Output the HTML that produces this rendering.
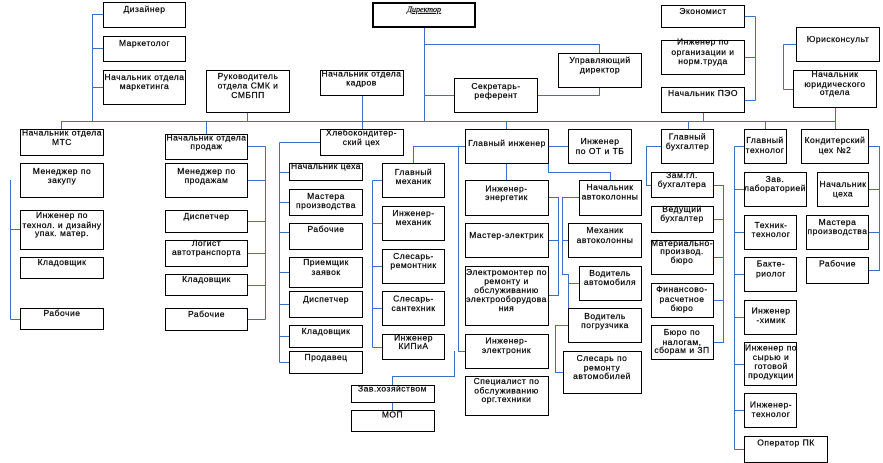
<!DOCTYPE html>
<html><head><meta charset="utf-8"><style>
html,body{margin:0;padding:0;background:#fff}
svg{display:block}
rect{fill:#fff;stroke:#000;stroke-width:1}
path{fill:none;stroke:#3f6fc4;stroke-width:1}
text{font-family:"Liberation Sans",sans-serif;font-size:8.5px;letter-spacing:.5px;text-anchor:middle;fill:#000;stroke:#000;stroke-width:.22px}
.d{font-family:"Liberation Serif",serif;font-style:italic;font-size:8px;letter-spacing:0;text-decoration:underline}
</style></head><body>
<svg width="883" height="463" viewBox="0 0 883 463" xmlns="http://www.w3.org/2000/svg" shape-rendering="crispEdges">
<path d="M61.5 121.5H835.5M92.5 121V14.5H103M92.5 48.5H103M92.5 87.5H103M61.5 121V130M206.5 121V135M247.5 112V121M362.5 95V130M424.5 26V121M424.5 44.5H599.5V54M424.5 95.5H455M537 95.5H599.5V87M506.5 121V130M506.5 163V181M703.5 112V121M688.5 121V130M765.5 121V130M835.5 107V130"/>
<path d="M755.5 16.5V100.5M744 16.5H755.5M744 57.5H755.5M744 100.5H755.5M783.5 44.5V89.5M783.5 44.5H797M783.5 89.5H794"/>
<path d="M10.5 180V319.5M10.5 229.5H21M10.5 319.5H21"/>
<path d="M265.5 146.5V319.5M247 146.5H265.5M247 180.5H265.5M247 221.5H265.5M247 253.5H265.5M247 285.5H265.5M247 319.5H265.5"/>
<path d="M279.5 142.5V362.5M279.5 142.5H321M279.5 172.5H290M279.5 202.5H290M279.5 232.5H290M279.5 272.5H290M279.5 304.5H290M279.5 336.5H290M279.5 362.5H290"/>
<path d="M465 146.5H413.5V164M372.5 180.5V347.5M372.5 180.5H383M372.5 223.5H383M372.5 266.5H383M372.5 308.5H383M372.5 347.5H383"/>
<path d="M458.5 146.5V351.5H466M454.5 351V376.5H392.5V386M392.5 402V411"/>
<path d="M548 146.5H569M548.5 155V172.5H610.5V181"/>
<path d="M548 197.5H558.5V295.5H548M548 240.5H558.5M579 197.5H562.5V274.5H568.5V325.5H555.5V372.5H564M562.5 240.5H569M568.5 283.5H580"/>
<path d="M661 146.5H646.5V185.5H652M713 185.5H723.5V342.5H713M713 219.5H723.5M713 257.5H723.5M713 300.5H723.5"/>
<path d="M734.5 146.5V449.5M734.5 146.5H745M734.5 189.5H745M734.5 232.5H745M734.5 274.5H745M734.5 317.5H745M734.5 364.5H745M734.5 410.5H745M734.5 449.5H745"/>
<path d="M868 146.5H879.5V270.5H868M868 189.5H879.5M868 232.5H879.5"/>

<rect x="373" y="3" width="102" height="24" style="stroke-width:2"/>
<rect x="103.5" y="2.5" width="82" height="25"/><rect x="103.5" y="36.5" width="82" height="25"/><rect x="103.5" y="70.5" width="82" height="34"/>
<rect x="206.5" y="70.5" width="83" height="42"/>
<rect x="20.5" y="129.5" width="83" height="26"/><rect x="20.5" y="163.5" width="83" height="34"/><rect x="20.5" y="210.5" width="83" height="39"/><rect x="20.5" y="257.5" width="83" height="21"/><rect x="20.5" y="308.5" width="83" height="21"/>
<rect x="165.5" y="134.5" width="82" height="25"/><rect x="165.5" y="163.5" width="82" height="34"/><rect x="165.5" y="210.5" width="82" height="22"/><rect x="165.5" y="240.5" width="82" height="26"/><rect x="165.5" y="274.5" width="82" height="21"/><rect x="165.5" y="308.5" width="82" height="22"/>
<rect x="289.5" y="163.5" width="73" height="17"/><rect x="289.5" y="189.5" width="73" height="26"/><rect x="289.5" y="223.5" width="73" height="26"/><rect x="289.5" y="257.5" width="73" height="30"/><rect x="289.5" y="291.5" width="73" height="26"/><rect x="289.5" y="325.5" width="73" height="22"/><rect x="289.5" y="351.5" width="73" height="22"/>
<rect x="320.5" y="70.5" width="83" height="25"/><rect x="320.5" y="129.5" width="83" height="26"/>
<rect x="454.5" y="78.5" width="83" height="34"/><rect x="558.5" y="53.5" width="83" height="34"/>
<rect x="465.5" y="129.5" width="83" height="34"/><rect x="568.5" y="129.5" width="63" height="34"/>
<rect x="382.5" y="163.5" width="62" height="34"/><rect x="382.5" y="206.5" width="62" height="34"/><rect x="382.5" y="249.5" width="62" height="34"/><rect x="382.5" y="291.5" width="62" height="34"/><rect x="382.5" y="334.5" width="62" height="25"/>
<rect x="465.5" y="180.5" width="83" height="35"/><rect x="465.5" y="223.5" width="83" height="34"/><rect x="465.5" y="266.5" width="83" height="59"/><rect x="465.5" y="334.5" width="83" height="34"/><rect x="465.5" y="376.5" width="83" height="39"/>
<rect x="579.5" y="180.5" width="62" height="35"/><rect x="568.5" y="223.5" width="73" height="34"/><rect x="579.5" y="266.5" width="62" height="34"/><rect x="568.5" y="308.5" width="73" height="34"/><rect x="563.5" y="351.5" width="78" height="42"/>
<rect x="351.5" y="385.5" width="83" height="17"/><rect x="351.5" y="410.5" width="83" height="21"/>
<rect x="661.5" y="5.5" width="83" height="22"/><rect x="661.5" y="40.5" width="83" height="34"/><rect x="661.5" y="87.5" width="83" height="25"/>
<rect x="796.5" y="27.5" width="83" height="34"/><rect x="793.5" y="70.5" width="83" height="37"/>
<rect x="661.5" y="129.5" width="52" height="34"/><rect x="651.5" y="172.5" width="62" height="25"/><rect x="651.5" y="206.5" width="62" height="26"/><rect x="651.5" y="240.5" width="62" height="34"/><rect x="651.5" y="283.5" width="62" height="34"/><rect x="651.5" y="325.5" width="62" height="34"/>
<rect x="744.5" y="129.5" width="42" height="34"/><rect x="801.5" y="129.5" width="67" height="34"/>
<rect x="744.5" y="172.5" width="62" height="34"/><rect x="817.5" y="172.5" width="51" height="34"/>
<rect x="744.5" y="215.5" width="52" height="34"/><rect x="806.5" y="215.5" width="62" height="34"/><rect x="806.5" y="257.5" width="62" height="26"/>
<rect x="744.5" y="257.5" width="52" height="34"/><rect x="744.5" y="300.5" width="52" height="34"/><rect x="744.5" y="342.5" width="52" height="43"/><rect x="744.5" y="393.5" width="52" height="34"/><rect x="744.5" y="436.5" width="83" height="26"/>

<text class="d" x="424" y="12">Директор</text>
<text x="144.5" y="12">Дизайнер</text>
<text x="144.5" y="46">Маркетолог</text>
<text x="144.5" y="80">Начальник отдела</text><text x="144.5" y="89">маркетинга</text>
<text x="248" y="79">Руководитель</text><text x="248" y="88.5">отдела СМК и</text><text x="248" y="98">СМБПП</text>
<text x="62" y="135.5">Начальник отдела</text><text x="62" y="145">МТС</text>
<text x="62" y="174">Менеджер по</text><text x="62" y="183">закупу</text>
<text x="62" y="218">Инженер по</text><text x="62" y="228">технол. и дизайну</text><text x="62" y="236">упак. матер.</text>
<text x="62" y="265">Кладовщик</text>
<text x="62" y="316">Рабочие</text>
<text x="206.5" y="140.5">Начальник отдела</text><text x="206.5" y="149">продаж</text>
<text x="206.5" y="174">Менеджер по</text><text x="206.5" y="183">продажам</text>
<text x="206.5" y="219">Диспетчер</text>
<text x="206.5" y="246">Логист</text><text x="206.5" y="255">автотранспорта</text>
<text x="206.5" y="282">Кладовщик</text>
<text x="206.5" y="317">Рабочие</text>
<text x="326" y="169">Начальник цеха</text>
<text x="326" y="199">Мастера</text><text x="326" y="208">производства</text>
<text x="326" y="232">Рабочие</text>
<text x="326" y="265">Приемщик</text><text x="326" y="275">заявок</text>
<text x="326" y="302">Диспетчер</text>
<text x="326" y="334">Кладовщик</text>
<text x="326" y="360">Продавец</text>
<text x="361.5" y="76.5">Начальник отдела</text><text x="361.5" y="85.5">кадров</text>
<text x="361.5" y="135.5">Хлебокондитер-</text><text x="361.5" y="145">ский цех</text>
<text x="496" y="89">Секретарь-</text><text x="496" y="98">референт</text>
<text x="600" y="63">Управляющий</text><text x="600" y="72.5">директор</text>
<text x="507" y="146">Главный инженер</text>
<text x="600" y="144">Инженер</text><text x="600" y="154">по ОТ и ТБ</text>
<text x="413.5" y="175">Главный</text><text x="413.5" y="184">механик</text>
<text x="413.5" y="216">Инженер-</text><text x="413.5" y="225">механик</text>
<text x="413.5" y="259">Слесарь-</text><text x="413.5" y="268">ремонтник</text>
<text x="413.5" y="301.5">Слесарь-</text><text x="413.5" y="311">сантехник</text>
<text x="413.5" y="340.5">Инженер</text><text x="413.5" y="349">КИПиА</text>
<text x="506.5" y="191.5">Инженер-</text><text x="506.5" y="200">энергетик</text>
<text x="506.5" y="238">Мастер-электрик</text>
<text x="506.5" y="275">Электромонтер по</text><text x="506.5" y="284">ремонту и</text><text x="506.5" y="293">обслуживанию</text><text x="506.5" y="302">электрооборудова</text><text x="506.5" y="311">ния</text>
<text x="506.5" y="343.5">Инженер-</text><text x="506.5" y="353">электроник</text>
<text x="506.5" y="384">Специалист по</text><text x="506.5" y="393.5">обслуживанию</text><text x="506.5" y="402">орг.техники</text>
<text x="610" y="190">Начальник</text><text x="610" y="199.5">автоколонны</text>
<text x="605" y="233">Механик</text><text x="605" y="243">автоколонны</text>
<text x="610" y="276">Водитель</text><text x="610" y="285">автомобиля</text>
<text x="605" y="319">Водитель</text><text x="605" y="328">погрузчика</text>
<text x="602" y="361">Слесарь по</text><text x="602" y="370.5">ремонту</text><text x="602" y="379">автомобилей</text>
<text x="392.5" y="391.5">Зав.хозяйством</text>
<text x="392.5" y="417.5">МОП</text>
<text x="703" y="14">Экономист</text>
<text x="703" y="44.5">Инженер по</text><text x="703" y="55">организации и</text><text x="703" y="64">норм.труда</text>
<text x="703" y="96">Начальник ПЭО</text>
<text x="838" y="42">Юрисконсульт</text>
<text x="835" y="77">Начальник</text><text x="835" y="87">юридического</text><text x="835" y="95">отдела</text>
<text x="687.5" y="139.5">Главный</text><text x="687.5" y="149">бухгалтер</text>
<text x="682" y="178">Зам.гл.</text><text x="682" y="187">бухгалтера</text>
<text x="682" y="212">Ведущий</text><text x="682" y="221">бухгалтер</text>
<text x="682" y="246">Материально-</text><text x="682" y="254">производ.</text><text x="682" y="263">бюро</text>
<text x="682" y="292">Финансово-</text><text x="682" y="302">расчетное</text><text x="682" y="311">бюро</text>
<text x="682" y="335">Бюро по</text><text x="682" y="345">налогам,</text><text x="682" y="353">сборам и ЗП</text>
<text x="765" y="143">Главный</text><text x="765" y="153">технолог</text>
<text x="835" y="143">Кондитерский</text><text x="835" y="153">цех №2</text>
<text x="775" y="182">Зав.</text><text x="775" y="191">лабораторией</text>
<text x="843" y="187">Начальник</text><text x="843" y="196.5">цеха</text>
<text x="771" y="228">Техник-</text><text x="771" y="237">технолог</text>
<text x="837.5" y="225">Мастера</text><text x="837.5" y="234">производства</text>
<text x="837.5" y="266.5">Рабочие</text>
<text x="771" y="266.5">Бакте-</text><text x="771" y="276.5">риолог</text>
<text x="771" y="313.5">Инженер</text><text x="771" y="323">-химик</text>
<text x="771" y="350.5">Инженер по</text><text x="771" y="360">сырью и</text><text x="771" y="369">готовой</text><text x="771" y="378">продукции</text>
<text x="771" y="407.5">Инженер-</text><text x="771" y="417">технолог</text>
<text x="786" y="445.5">Оператор ПК</text>
</svg>
</body></html>
